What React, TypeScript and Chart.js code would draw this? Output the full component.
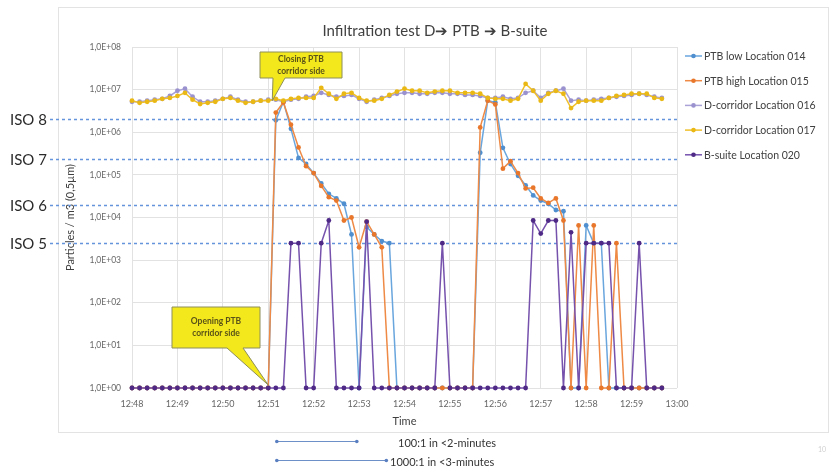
import { useEffect, useRef } from 'react';
import { Chart, registerables } from 'chart.js';

Chart.register(...registerables);

// 10-second samples (category axis)
const sampleTimes = [
  '12:48:00', '12:48:10', '12:48:20', '12:48:30', '12:48:40', '12:48:50',
  '12:49:00', '12:49:10', '12:49:20', '12:49:30', '12:49:40', '12:49:50',
  '12:50:00', '12:50:10', '12:50:20', '12:50:30', '12:50:40', '12:50:50',
  '12:51:00', '12:51:10', '12:51:20', '12:51:30', '12:51:40', '12:51:50',
  '12:52:00', '12:52:10', '12:52:20', '12:52:30', '12:52:40', '12:52:50',
  '12:53:00', '12:53:10', '12:53:20', '12:53:30', '12:53:40', '12:53:50',
  '12:54:00', '12:54:10', '12:54:20', '12:54:30', '12:54:40', '12:54:50',
  '12:55:00', '12:55:10', '12:55:20', '12:55:30', '12:55:40', '12:55:50',
  '12:56:00', '12:56:10', '12:56:20', '12:56:30', '12:56:40', '12:56:50',
  '12:57:00', '12:57:10', '12:57:20', '12:57:30', '12:57:40', '12:57:50',
  '12:58:00', '12:58:10', '12:58:20', '12:58:30', '12:58:40', '12:58:50',
  '12:59:00', '12:59:10', '12:59:20', '12:59:30', '12:59:40', '12:59:50',
  '13:00:00',
];

const minuteLabels = ['12:48', '12:49', '12:50', '12:51', '12:52', '12:53', '12:54', '12:55', '12:56', '12:57', '12:58', '12:59', '13:00'];

const yTickValues = [1, 10, 100, 1000, 1e4, 1e5, 1e6, 1e7, 1e8];
const yTickLabels = ['1,0E+00', '1,0E+01', '1,0E+02', '1,0E+03', '1,0E+04', '1,0E+05', '1,0E+06', '1,0E+07', '1,0E+08'];

const ptbLow014 = [
  1, 1, 1, 1, 1, 1, 1, 1, 1, 1, 1, 1, 1, 1, 1, 1, 1, 1, 1,
  1.9e6, 5.2e6, 1.2e6, 2.5e5, 1.8e5, 1.1e5, 6.3e4, 3.6e4, 2.8e4, 2.1e4, 4.0e3, 1, 6.0e3, 4.0e3, 2.8e3, 2.5e3,
  1, 1, 1, 1, 1, 1, 1, 1, 1, 1, 1,
  3.3e5, 5.5e6, 5.0e6, 4.3e5, 1.8e5, 9.5e4, 5.7e4, 3.3e4, 2.5e4, 2.1e4, 1.5e4, 1.4e4,
  1, 1, 6.5e3, 2.5e3, 2.5e3,
  1, 1, 1, 1, 1, 1, 1, 1,
];

const ptbHigh015 = [
  1, 1, 1, 1, 1, 1, 1, 1, 1, 1, 1, 1, 1, 1, 1, 1, 1, 1, 1,
  2.9e6, 5.0e6, 1.5e6, 4.4e5, 1.6e5, 1.1e5, 5.5e4, 3.0e4, 2.5e4, 8.5e3, 1.0e4, 2.0e3, 8.0e3, 4.0e3, 2.0e3,
  1,
  1, 1, 1, 1, 1, 1, 1, 1, 1, 1, 1,
  1.3e6, 5.5e6, 4.5e6, 1.4e5, 2.1e5, 1.1e5, 4.8e4, 5.0e4, 2.8e4, 2.2e4, 2.8e4, 8.5e3,
  1, 6.5e3, 1, 6.5e3, 1, 1, 2.5e3,
  1, 1, 1, 1, 1, 1,
];

const dCorridor016 = [
  5.2e6, 5.2e6, 5.5e6, 5.8e6, 6.1e6, 7.1e6, 9.4e6, 1.05e7, 6.8e6, 5.2e6,
  5.2e6, 5.5e6, 6.1e6, 6.8e6, 5.8e6, 5.2e6, 5.2e6, 5.5e6, 5.8e6, 5.8e6,
  5.2e6, 5.8e6, 6.1e6, 6.8e6, 7.1e6, 8.4e6, 7.5e6, 6.8e6, 7.1e6, 7.5e6,
  6.1e6, 5.2e6, 5.8e6, 6.4e6, 7.1e6, 8.0e6, 8.4e6, 8.4e6, 8.0e6, 8.0e6,
  8.4e6, 8.4e6, 8.0e6, 8.0e6, 7.5e6, 7.5e6, 7.1e6, 6.4e6, 6.4e6, 6.8e6,
  6.1e6, 6.4e6, 8.4e6, 9.4e6, 6.4e6, 8.4e6, 9.4e6, 1.05e7, 5.5e6, 5.8e6,
  5.5e6, 5.8e6, 6.1e6, 6.4e6, 6.8e6, 7.1e6, 7.5e6, 8.0e6, 7.5e6, 6.8e6,
  6.4e6,
];

const dCorridor017 = [
  5.5e6, 4.9e6, 5.2e6, 5.5e6, 6.1e6, 6.4e6, 7.1e6, 8.4e6, 5.8e6, 4.6e6,
  4.9e6, 5.2e6, 6.1e6, 6.4e6, 5.5e6, 4.9e6, 5.2e6, 5.5e6, 5.5e6, 6.1e6,
  5.5e6, 6.1e6, 6.4e6, 6.4e6, 6.4e6, 1.1e7, 8.0e6, 6.1e6, 8.0e6, 8.4e6,
  6.4e6, 5.5e6, 5.5e6, 6.1e6, 7.5e6, 9.0e6, 1.05e7, 9.4e6, 9.4e6, 8.4e6,
  9.0e6, 9.4e6, 9.4e6, 8.4e6, 8.4e6, 8.4e6, 8.0e6, 6.4e6, 6.1e6, 6.1e6,
  5.5e6, 6.1e6, 1.36e7, 9.4e6, 5.5e6, 8.0e6, 9.4e6, 8.0e6, 3.7e6, 5.2e6,
  5.5e6, 5.5e6, 5.5e6, 6.4e6, 7.1e6, 7.5e6, 8.0e6, 8.0e6, 8.0e6, 6.4e6,
  6.1e6,
];

const bSuite020 = [
  1, 1, 1, 1, 1, 1, 1, 1, 1, 1, 1, 1, 1, 1, 1, 1, 1, 1, 1, 1, 1,
  2.5e3, 2.5e3, 1, 1, 2.5e3, 8.5e3, 1, 1, 1, 1, 8.0e3, 1,
  1, 1, 1, 1, 1, 1, 1, 1,
  2.5e3,
  1, 1, 1, 1, 1, 1, 1, 1, 1, 1, 1,
  8.5e3, 4.2e3, 8.5e3, 8.5e3, 1, 4.5e3, 1, 2.5e3, 2.5e3, 2.5e3, 2.5e3, 1, 1, 1, 2.5e3, 1, 1, 1,
];

const seriesNames = [
  'PTB low Location 014',
  'PTB high Location 015',
  'D-corridor Location 016',
  'D-corridor Location 017',
  'B-suite Location 020',
];
const seriesData = [ptbLow014, ptbHigh015, dCorridor016, dCorridor017, bSuite020];
const seriesColors = ['#6aa6de', '#ee8a45', '#aaa3d8', '#f0c02a', '#7652ad'];
const seriesPointColors = ['#4f8fcf', '#e8772c', '#9a92cf', '#eab814', '#4e2a86'];
const seriesOrder = [3, 2, 4, 1, 0];

const isoLabels = ['ISO 8', 'ISO 7', 'ISO 6', 'ISO 5'];
const isoLevels = [2.0e6, 2.4e5, 2.0e4, 2.5e3];

const chartTitle = 'Infiltration test D\u2794 PTB \u2794 B-suite';
const yAxisTitle = 'Particles / m3 (0,5\u00b5m)';
const xAxisTitle = 'Time';
const closingNote = ['Closing PTB', 'corridor side'];
const openingNote = ['Opening PTB', 'corridor side'];
const ratioNotes = ['100:1 in <2-minutes', '1000:1 in <3-minutes'];

const FONT = 'Lato, "Liberation Sans", sans-serif';

function callout(ctx: CanvasRenderingContext2D, x0: number, y0: number, x1: number, y1: number,
  b1: number, b2: number, tx: number, ty: number, lines: string[]) {
  ctx.save();
  ctx.beginPath();
  ctx.moveTo(x0, y0);
  ctx.lineTo(x1, y0);
  ctx.lineTo(x1, y1);
  ctx.lineTo(b2, y1);
  ctx.lineTo(tx, ty);
  ctx.lineTo(b1, y1);
  ctx.lineTo(x0, y1);
  ctx.closePath();
  ctx.fillStyle = '#f2e81c';
  ctx.fill();
  ctx.strokeStyle = '#8e8e5a';
  ctx.lineWidth = 1;
  ctx.stroke();
  ctx.fillStyle = '#5a5218';
  ctx.font = `bold 8.5px ${FONT}`;
  ctx.textAlign = 'center';
  ctx.textBaseline = 'middle';
  const cx = (x0 + x1) / 2;
  const cy = (y0 + y1) / 2;
  lines.forEach((l, k) => ctx.fillText(l, cx, cy + (k - (lines.length - 1) / 2) * 12));
  ctx.restore();
}

const overlay = {
  id: 'overlay',
  beforeDraw(chart: any) {
    const ctx = chart.ctx as CanvasRenderingContext2D;
    ctx.save();
    ctx.fillStyle = '#ffffff';
    ctx.fillRect(0, 0, chart.width, chart.height);
    ctx.strokeStyle = '#e3e3e3';
    ctx.lineWidth = 1;
    ctx.strokeRect(58.5, 7.5, 770, 425);
    ctx.restore();
  },
  beforeDatasetsDraw(chart: any) {
    const ctx = chart.ctx as CanvasRenderingContext2D;
    const y = chart.scales.y;
    const right = chart.chartArea.right;
    ctx.save();
    ctx.strokeStyle = '#6394dc';
    ctx.lineWidth = 1.5;
    ctx.setLineDash([3, 3]);
    isoLevels.forEach((v) => {
      const py = Math.round(y.getPixelForValue(v)) + 0.5;
      ctx.beginPath();
      ctx.moveTo(50, py);
      ctx.lineTo(right, py);
      ctx.stroke();
    });
    ctx.restore();
  },
  afterDraw(chart: any) {
    const ctx = chart.ctx as CanvasRenderingContext2D;
    const xs = chart.scales.x;
    const ys = chart.scales.y;
    ctx.save();
    // ISO labels
    ctx.fillStyle = '#2a2a2a';
    ctx.font = `15px ${FONT}`;
    ctx.textAlign = 'left';
    ctx.textBaseline = 'middle';
    isoLevels.forEach((v, k) => ctx.fillText(isoLabels[k], 10, ys.getPixelForValue(v) + 1));

    // title
    ctx.fillStyle = '#404040';
    ctx.font = `15px ${FONT}`;
    ctx.textAlign = 'center';
    ctx.fillText(chartTitle, 435, 31);

    // legend
    ctx.font = `10.5px ${FONT}`;
    ctx.textAlign = 'left';
    seriesNames.forEach((name, k) => {
      const ly = 56 + k * 24.7;
      ctx.strokeStyle = seriesColors[k];
      ctx.lineWidth = 1.5;
      ctx.beginPath();
      ctx.moveTo(685, ly);
      ctx.lineTo(702, ly);
      ctx.stroke();
      ctx.fillStyle = seriesPointColors[k];
      ctx.beginPath();
      ctx.arc(693.5, ly, 2.3, 0, Math.PI * 2);
      ctx.fill();
      ctx.fillStyle = '#404040';
      ctx.fillText(name, 704, ly + 0.5);
    });

    // callouts
    const tipClose = { x: xs.getPixelForValue(18) + 4, y: ys.getPixelForValue(dCorridor017[18]) };
    callout(ctx, 260, 52, 342, 78, 273, 285, tipClose.x, tipClose.y, closingNote);
    const tipOpen = { x: xs.getPixelForValue(18), y: ys.getPixelForValue(ptbHigh015[18]) - 3 };
    callout(ctx, 172, 307, 260, 348, 227, 243, tipOpen.x, tipOpen.y, openingNote);

    // ratio notes
    const starts = [19, 19];
    const ends = [29.7, 33.6];
    const lineYs = [441, 460];
    const textXs = [398, 390];
    ratioNotes.forEach((t, k) => {
      const x0 = xs.getPixelForValue(starts[k]) + 1;
      const x1 = xs.getPixelForValue(ends[k]);
      ctx.strokeStyle = '#6e90c8';
      ctx.lineWidth = 1;
      ctx.beginPath();
      ctx.moveTo(x0, lineYs[k] + 0.5);
      ctx.lineTo(x1, lineYs[k] + 0.5);
      ctx.stroke();
      ctx.fillStyle = '#5a7fc0';
      [x0, x1].forEach((px) => {
        ctx.beginPath();
        ctx.arc(px, lineYs[k] + 0.5, 1.8, 0, Math.PI * 2);
        ctx.fill();
      });
      ctx.fillStyle = '#333333';
      ctx.font = `11px ${FONT}`;
      ctx.textAlign = 'left';
      ctx.textBaseline = 'middle';
      ctx.fillText(t, textXs[k], lineYs[k] + 2);
    });

    ctx.fillStyle = '#cfcfcf';
    ctx.font = `7px ${FONT}`;
    ctx.fillText('10', 818, 450);
    ctx.restore();
  },
};

export default function App() {
  const ref = useRef<HTMLCanvasElement | null>(null);
  useEffect(() => {
    if (!ref.current) return;
    Chart.defaults.font.family = FONT;
    const chart = new Chart(ref.current, {
      type: 'line',
      data: {
        labels: sampleTimes,
        datasets: seriesNames.map((name, k) => ({
          label: name,
          data: seriesData[k],
          borderColor: seriesColors[k],
          backgroundColor: seriesPointColors[k],
          pointBackgroundColor: seriesPointColors[k],
          pointBorderWidth: 0,
          pointRadius: 2.4,
          borderWidth: 1.5,
          tension: 0,
          fill: false,
          clip: false,
          order: seriesOrder[k],
        })),
      },
      options: {
        responsive: false,
        animation: false,
        devicePixelRatio: 1,
        layout: { padding: { left: 60, right: 153, top: 47, bottom: 40 } },
        plugins: {
          legend: { display: false },
          title: { display: false },
          tooltip: { enabled: false },
        },
        scales: {
          x: {
            type: 'category',
            afterFit: (s: any) => { s.height = 44; },
            afterBuildTicks: (s: any) => { s.ticks = s.ticks.filter((t: any) => t.value % 6 === 0); },
            ticks: {
              autoSkip: false,
              maxRotation: 0,
              padding: 11,
              color: '#666666',
              font: { size: 9 },
              callback: (v: any) => minuteLabels[Math.round(Number(v) / 6)],
            },
            grid: { color: '#e2e2e2', drawTicks: false },
            border: { display: false },
            title: { display: true, text: xAxisTitle, color: '#404040', font: { size: 11 } },
          },
          y: {
            type: 'logarithmic',
            min: 1,
            max: 1e8,
            afterFit: (s: any) => { s.width = 72; },
            afterBuildTicks: (s: any) => { s.ticks = yTickValues.map((v) => ({ value: v })); },
            ticks: {
              padding: 11,
              color: '#666666',
              font: { size: 8.5 },
              callback: (v: any) => yTickLabels[Math.round(Math.log10(Number(v)))],
            },
            grid: { color: '#e2e2e2', drawTicks: false },
            border: { display: false },
            title: { display: true, text: yAxisTitle, color: '#404040', font: { size: 11 } },
          },
        },
      },
      plugins: [overlay],
    } as any);
    return () => chart.destroy();
  }, []);
  return (
    <div style={{ position: 'fixed', left: 0, top: 0, width: 830, height: 472, background: '#fff' }}>
      <canvas ref={ref} width={830} height={472} style={{ width: 830, height: 472, display: 'block' }} />
    </div>
  );
}
